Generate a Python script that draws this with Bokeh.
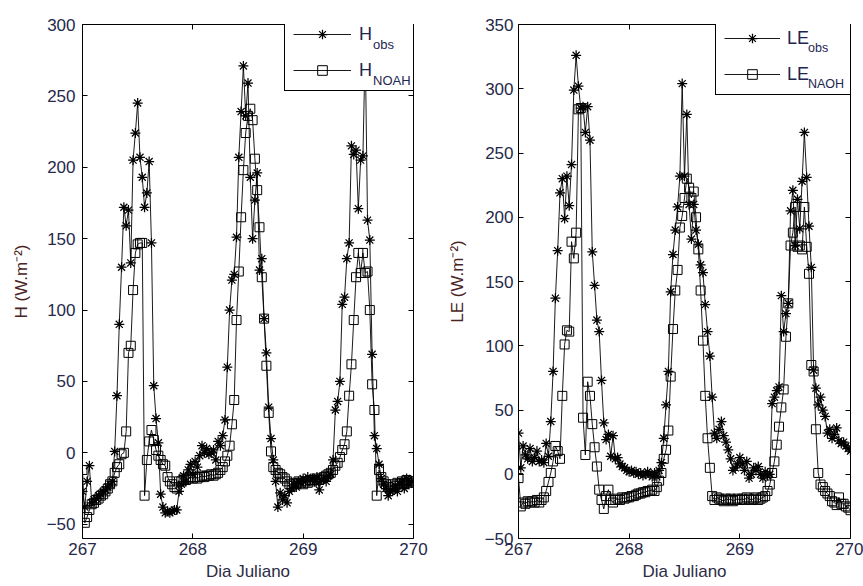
import numpy as np
from bokeh.plotting import figure
from bokeh.layouts import row
from bokeh.models import (Range1d, FixedTicker, LinearAxis, Legend, LegendItem)
from bokeh.embed import file_html
from bokeh.resources import INLINE

# Dia Juliano: half-hourly samples from day 267 to day 270
dia_juliano = np.round(267 + np.arange(145) / 48.0, 5)

h_obs = [-27, -38, -20, -9, -35, -33, -32, -30, -29, -27, -26, -24, -22, -20,
         1, 40, 90, 130, 172, 159, 170, 133, 205, 224, 245, 207, 193, 172, 182, 204,
         147, 47, 24, 7, -29, -38, -42, -41, -42, -41, -40, -40, -27, -22, -16, -20,
         -12, -8, -15, -6, -10, -2, 5, 0, 3, -1, 0, 2, -5, 8, 5, 12,
         23, 60, 100, 121, 125, 151, 207, 239, 271, 236, 259, 193, 150, 177, 196, 128,
         136, 94, 70, 32, 10, -5, -20, -38, -28, -33, -30, -35, -27, -25, -22, -24,
         -20, -21, -18, -20, -17, -19, -18, -20, -17, -26, -19, -18, -20, -16, -15, -5,
         30, 36, 50, 104, 109, 136, 147, 215, 209, 212, 171, 205, 208, 285, 163, 149,
         69, 12, 3, -8, -18, -22, -25, -30, -27, -26, -23, -27, -22, -20, -25, -18,
         -22, -20, -20]

h_noah = [-12, -49, -45, -40, -36, -35, -33, -32, -30, -29, -27, -25, -22, -20,
          -14, -10, -8, -1, 0, 15, 70, 75, 114, 140, 146, 147, 147, -30, -5, 8,
          16, 9, 2, -2, -5, -8, -9, -17, -20, -22, -24, -25, -20, -20, -18, -19,
          -18, -17, -18, -17, -18, -17, -16, -17, -16, -16, -15, -16, -15, -14, -12, -10,
          -6, -2, 5, 20, 37, 93, 127, 165, 198, 224, 236, 241, 233, 206, 184, 158,
          123, 94, 61, 28, 1, -10, -12, -14, -15, -17, -18, -20, -22, -23, -21, -22,
          -20, -21, -22, -20, -21, -19, -20, -19, -18, -19, -18, -17, -16, -15, -14, -12,
          -9, -7, -3, 2, 6, 15, 40, 62, 93, 123, 140, 126, 140, 126, 127, 100,
          48, 30, -30, -12, -17, -20, -22, -24, -25, -22, -23, -21, -22, -20, -21, -19,
          -20, -21, -20]

le_obs = [32, 5, 22, 15, 12, 20, 10, 13, 18, 10, 11, 9, 24, 14,
          41, 80, 137, 174, 219, 230, 199, 232, 209, 241, 299, 326, 302, 285, 286, 266,
          286, 260, 173, 147, 120, 111, 73, 40, 27, 31, 14, 30, 12, 13, 8, 6,
          5, 3, 2, 3, 1, 2, 0, 1, -1, 0, 2, 0, -2, 1, -2, 3,
          9, 28, 54, 80, 142, 171, 190, 208, 232, 304, 232, 280, 210, 183, 210, 190,
          179, 163, 157, 132, 111, 92, 60, 32, 28, 35, 41, 30, 25, 19, 12, 3,
          5, 8, 13, 8, 3, 10, -3, 0, 5, 3, 6, 0, -3, 2, -1, 0,
          55, 60, 65, 68, 139, 111, 125, 133, 205, 221, 178, 214, 191, 228, 266, 231,
          193, 161, 81, 67, 54, 60, 50, 45, 32, 35, 28, 31, 36, 26, 24, 25,
          22, 20, 18]

le_noah = [-3, -25, -22, -23, -21, -22, -21, -22, -20, -22, -20, -18, -13, -6,
           1, 10, 22, 18, 12, 61, 101, 112, 111, 181, 168, 188, 284, 285, 44, 15,
           72, 61, 39, 21, 6, -12, -20, -27, -17, -12, -20, -22, -20, -19, -20, -18,
           -19, -18, -18, -17, -17, -16, -15, -15, -14, -14, -13, -13, -12, -13, -10, -5,
           1, 12, 19, 34, 76, 113, 143, 159, 192, 201, 215, 230, 223, 215, 220, 200,
           175, 143, 104, 61, 28, 5, -17, -20, -18, -19, -20, -21, -19, -20, -19, -21,
           -20, -19, -20, -19, -20, -18, -19, -20, -19, -18, -20, -19, -18, -17, -13, -8,
           1, 10, 23, 37, 52, 66, 107, 133, 178, 188, 208, 177, 178, 175, 208, 177,
           156, 85, 80, 35, 1, -8, -10, -13, -15, -17, -21, -22, -24, -18, -23, -23,
           -25, -26, -28]

x_ticks = [267, 268, 269, 270]
h_ticks = [-50, 0, 50, 100, 150, 200, 250, 300]
le_ticks = [-50, 0, 50, 100, 150, 200, 250, 300, 350]

FONT = "Liberation Sans"
TICK_COLOR = "#26284a"
XLABEL_COLOR = "#2c2c44"
YLABEL_COLOR = "#4a2424"
LEG_COLOR = "#1e2550"


def style_axis(ax, tick_standoff, label_standoff, color):
    ax.major_tick_in = 5
    ax.major_tick_out = 0
    ax.minor_tick_line_color = None
    ax.axis_line_color = "black"
    ax.axis_line_width = 1
    ax.major_tick_line_color = "black"
    ax.major_label_text_font = FONT
    ax.major_label_text_font_size = "17px"
    ax.major_label_text_color = TICK_COLOR
    ax.major_label_standoff = tick_standoff
    ax.axis_label_text_font = FONT
    ax.axis_label_text_font_size = "17px"
    ax.axis_label_text_font_style = "normal"
    ax.axis_label_text_color = color
    ax.axis_label_standoff = label_standoff


def bare_axis(ticks):
    # box side with inward ticks only (no tick labels)
    return LinearAxis(ticker=FixedTicker(ticks=ticks), major_tick_in=5, major_tick_out=0,
                      minor_tick_line_color=None, axis_line_color="black",
                      major_tick_line_color="black", major_label_text_font_size="0px",
                      major_label_text_color=None, major_label_standoff=0,
                      axis_label=None)


def panel(width, min_left, min_right, ylim, yticks, ylabel, obs, noah,
          tick_standoff, label_standoff):
    p = figure(width=width, height=586, output_backend="svg", toolbar_location=None,
               x_range=Range1d(267, 270), y_range=Range1d(*ylim),
               min_border_left=min_left, min_border_right=min_right,
               min_border_top=24, min_border_bottom=48)
    p.grid.visible = False
    p.outline_line_color = None
    r_ol = p.line(dia_juliano, obs, line_color="black", line_width=0.9)
    r_os = p.scatter(dia_juliano, obs, marker="asterisk", size=10, line_color="black",
                     line_width=1.25)
    r_nl = p.line(dia_juliano, noah, line_color="black", line_width=0.9)
    r_ns = p.scatter(dia_juliano, noah, marker="square", size=9, line_color="black",
                     fill_color=None, line_width=1)
    p.xaxis.ticker = FixedTicker(ticks=x_ticks)
    p.yaxis.ticker = FixedTicker(ticks=yticks)
    p.xaxis.axis_label = "Dia Juliano"
    p.yaxis.axis_label = ylabel
    style_axis(p.xaxis[0], 4, 4, XLABEL_COLOR)
    style_axis(p.yaxis[0], tick_standoff, label_standoff, YLABEL_COLOR)
    p.add_layout(bare_axis(x_ticks), "above")
    p.add_layout(bare_axis(yticks), "right")
    return p, [r_ol, r_os], [r_nl, r_ns]


def add_legend(p, main, subs, obs_r, noah_r, loc, glyph_w, standoff, label_width,
               sub_loc, sub_size):
    leg = Legend(items=[LegendItem(label=main, renderers=obs_r),
                        LegendItem(label=main, renderers=noah_r)],
                 location=loc, padding=8, spacing=12, margin=0,
                 glyph_width=glyph_w, glyph_height=24, label_height=24,
                 label_width=label_width, label_standoff=standoff,
                 label_text_font=FONT, label_text_font_size="18px",
                 label_text_color=LEG_COLOR,
                 border_line_color="black", border_line_width=1, border_line_alpha=1,
                 background_fill_color="white", background_fill_alpha=1)
    p.add_layout(leg, "center")
    # subscripts: a second, frameless legend whose entries carry no sample glyph
    sub = Legend(items=[LegendItem(label=subs[0], renderers=[obs_r[0]]),
                        LegendItem(label=subs[1], renderers=[noah_r[0]])],
                 location=sub_loc, padding=8, spacing=12, margin=0,
                 glyph_width=0, glyph_height=24, label_height=24, label_width=10,
                 label_standoff=0, label_text_font=FONT, label_text_font_size=sub_size,
                 label_text_color=LEG_COLOR, border_line_color=None,
                 background_fill_color=None, background_fill_alpha=0)
    p.add_layout(sub, "center")


p1, h_obs_r, h_noah_r = panel(444, 82, 31, (-60, 300), h_ticks, "H (W.m\u207b\u00b2)",
                              h_obs, h_noah, 7, 13)
add_legend(p1, "H", ["obs", "NOAH"], h_obs_r, h_noah_r, (202, 447), 58, 8, 54,
           (291, 446), "13px")

p2, le_obs_r, le_noah_r = panel(419, 74, 13, (-50, 350), le_ticks, "LE (W.m\u207b\u00b2)",
                                le_obs, le_noah, 5, 15)
add_legend(p2, "LE", ["obs", "NAOH"], le_obs_r, le_noah_r, (197, 443), 56, 7, 70,
           (290, 442), "12.5px")

layout = row(p1, p2)
open("out.html", "w").write(file_html(layout, INLINE))
